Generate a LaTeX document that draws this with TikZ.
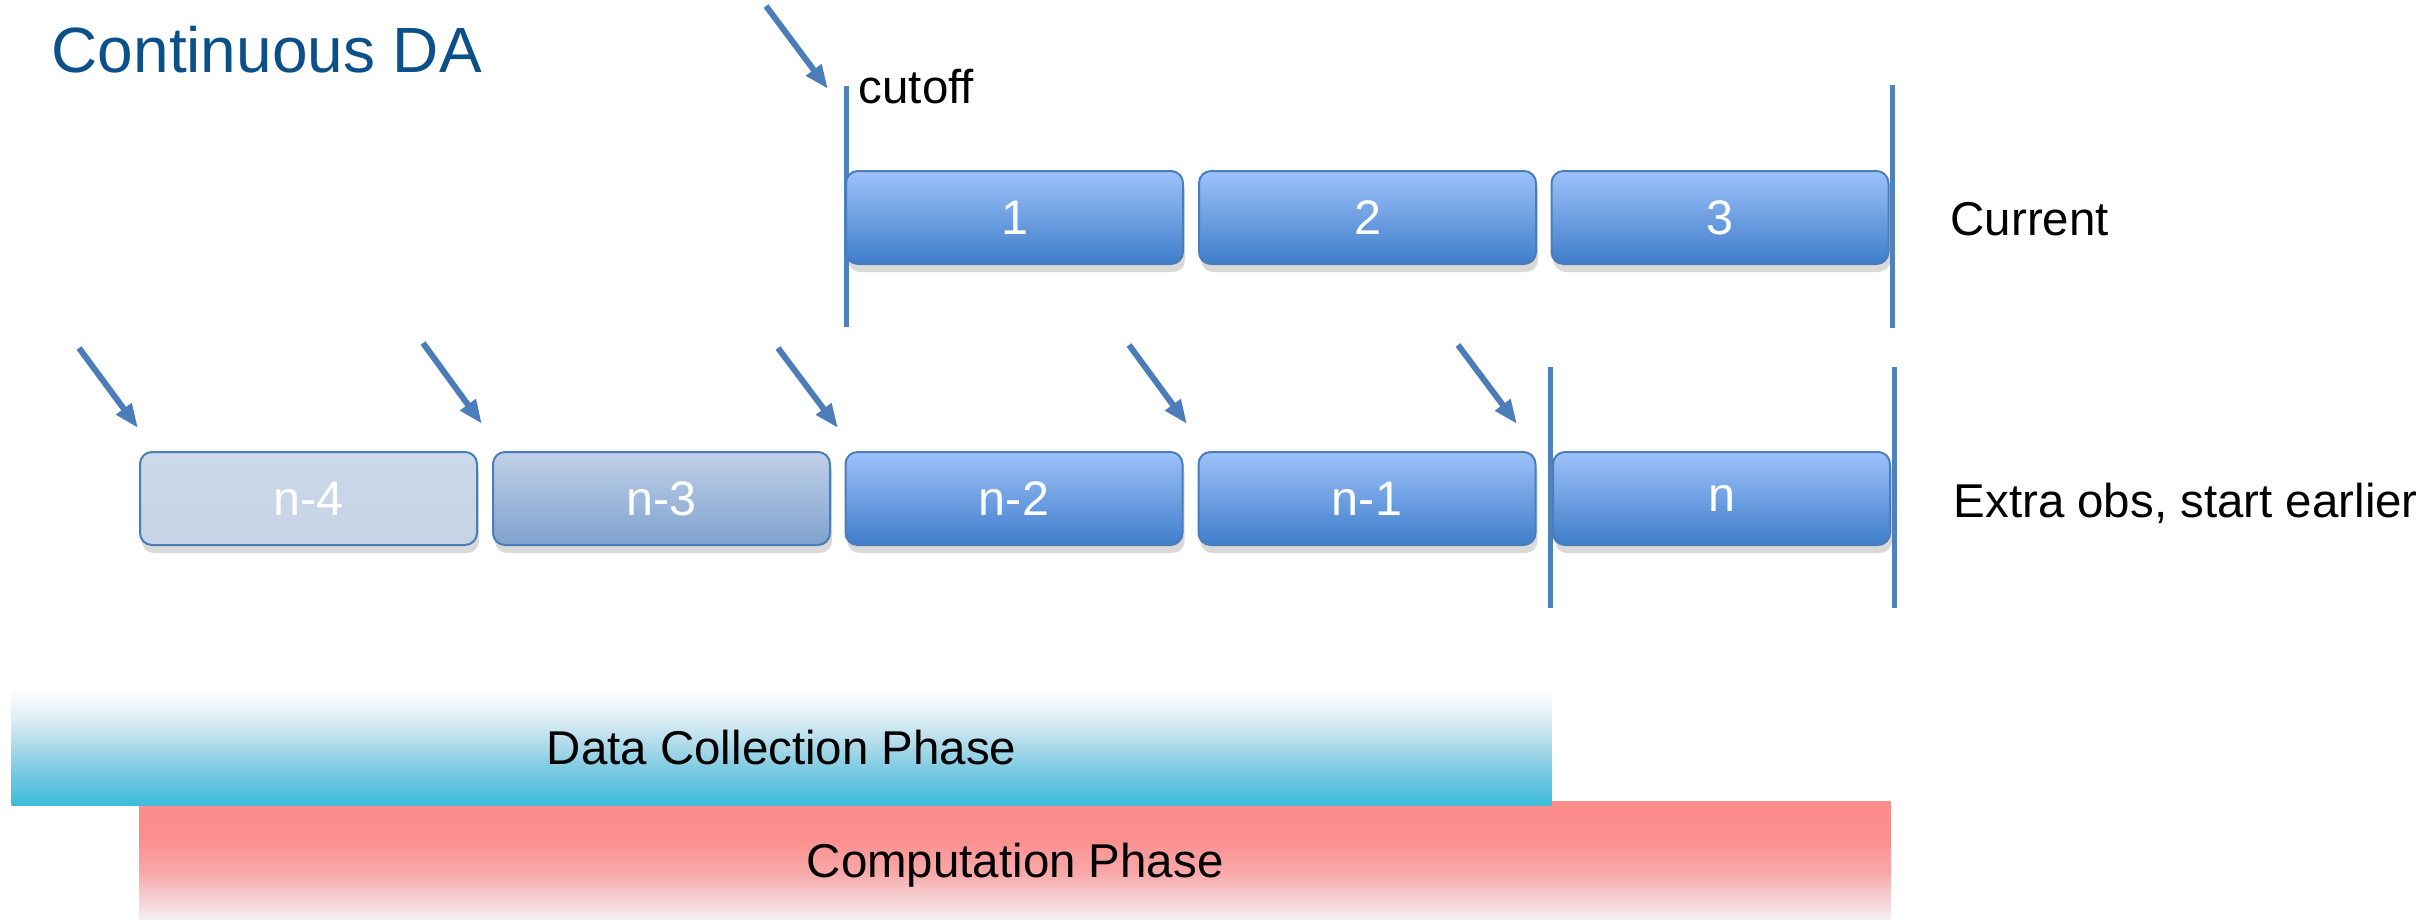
\documentclass[tikz,border=0pt]{standalone}
\usepackage{fontspec}
\setmainfont{Liberation Sans}
\usetikzlibrary{arrows.meta,shadows}
\definecolor{titleblue}{HTML}{0B5088}
\definecolor{boxtop}{HTML}{9DC2FA}
\definecolor{boxbot}{HTML}{3F7DCA}
\definecolor{boxedge}{HTML}{4A7DBA}
\definecolor{linecol}{HTML}{4F81BD}
\definecolor{fadetop}{HTML}{C0D0E8}
\definecolor{fadebot}{HTML}{7FA2CE}
\definecolor{paletop}{HTML}{CCD9EA}
\definecolor{palebot}{HTML}{C6D3E5}
\definecolor{dcA}{HTML}{3BBCDC}
\definecolor{dcB}{HTML}{7ACAE2}
\definecolor{dcC}{HTML}{A9D8E8}
\definecolor{dcD}{HTML}{DCEEF5}
\definecolor{cpA}{HTML}{F5EEF2}
\definecolor{cpB}{HTML}{F6CDD0}
\definecolor{cpC}{HTML}{F8A8A9}
\definecolor{cpD}{HTML}{FC8E8E}
\definecolor{cpE}{HTML}{FD8C8C}
\pgfdeclareverticalshading{dcshade}{100bp}{color(0bp)=(dcA); color(25bp)=(dcA); color(40bp)=(dcB); color(50bp)=(dcC); color(62bp)=(dcD); color(75bp)=(white); color(100bp)=(white)}
\pgfdeclareverticalshading{cpshade}{100bp}{color(0bp)=(cpA); color(25bp)=(cpA); color(35bp)=(cpB); color(45bp)=(cpC); color(60bp)=(cpD); color(75bp)=(cpE); color(100bp)=(cpE)}
\begin{document}
\begin{tikzpicture}[x=0.1mm,y=-0.1mm,
  txt/.style={font=\fontsize{13.5pt}{16pt}\selectfont, inner sep=0pt},
  slot/.style={draw=boxedge, line width=0.2mm, rounded corners=1.2mm,
    minimum width=33.7mm, minimum height=9.3mm, inner sep=0pt, text depth=0pt,
    text=white, font=\fontsize{13.8pt}{16pt}\selectfont,
    drop shadow={opacity=0.3, shadow xshift=0.2mm, shadow yshift=-0.8mm}},
  live/.style={slot, top color=boxtop, bottom color=boxbot},
  older/.style={slot, top color=fadetop, bottom color=fadebot},
  oldest/.style={slot, top color=paletop, bottom color=palebot},
  bar/.style={draw=linecol, line width=0.5mm},
  obs/.style={draw=boxedge, line width=0.6mm, -{Triangle[length=2.4mm,width=1.8mm]}},
  phase/.style={shade, inner sep=0pt, text depth=0pt, anchor=north west,
    font=\fontsize{13.5pt}{16pt}\selectfont}
]
\useasboundingbox (0,0) rectangle (2425,919);

% title
\node[anchor=base west, inner sep=0pt, text=titleblue,
      font=\fontsize{18.2pt}{22pt}\selectfont] (title) at (51,72) {Continuous DA};

% phases
\node[phase, shading=cpshade, minimum width=175.1mm, minimum height=11.8mm] (comp) at (139,801) {Computation Phase};
\node[phase, shading=dcshade, minimum width=154.0mm, minimum height=11.7mm] (dc) at (11,688) {Data Collection Phase};

% row 1 (current)
\coordinate (c0t) at (846,86);  \coordinate (c0b) at (846,327);
\coordinate (c1t) at (1892,85); \coordinate (c1b) at (1892,328);
\draw[bar] (c0t) -- (c0b);
\draw[bar] (c1t) -- (c1b);
\node[live] (b1) at (1014.5,217.5) {1};
\node[live] (b2) at (1367.5,217.5) {2};
\node[live] (b3) at (1720,217.5) {3};
\node[txt, anchor=base west] (cut) at (858,103) {cutoff};
\node[txt, anchor=base west] (cur) at (1950,235) {Current};
\coordinate (a0s) at (766,6); \coordinate (a0e) at (828,89);
\draw[obs] (a0s) -- (a0e);

% row 2 (extra obs)
\coordinate (d0t) at (1550,367); \coordinate (d0b) at (1550,608);
\coordinate (d1t) at (1894,367); \coordinate (d1b) at (1894,608);
\draw[bar] (d0t) -- (d0b);
\draw[bar] (d1t) -- (d1b);
\node[oldest] (m4) at (308.5,498.5) {n-4};
\node[older]  (m3) at (661.5,498.5) {n-3};
\node[live]   (m2) at (1014,498.5) {n-2};
\node[live]   (m1) at (1367,498.5) {n-1};
\node[live]   (m0) at (1721.5,498.5) {n};
\node[txt, anchor=base west] (extra) at (1953,517) {Extra obs, start earlier};
\coordinate (a1s) at (79,348);   \coordinate (a1e) at (138,428);
\coordinate (a2s) at (423,343);  \coordinate (a2e) at (482,424);
\coordinate (a3s) at (778,348);  \coordinate (a3e) at (838,428);
\coordinate (a4s) at (1129,345); \coordinate (a4e) at (1187,424);
\coordinate (a5s) at (1458,345); \coordinate (a5e) at (1517,424);
\draw[obs] (a1s) -- (a1e);
\draw[obs] (a2s) -- (a2e);
\draw[obs] (a3s) -- (a3e);
\draw[obs] (a4s) -- (a4e);
\draw[obs] (a5s) -- (a5e);
\end{tikzpicture}
\end{document}
